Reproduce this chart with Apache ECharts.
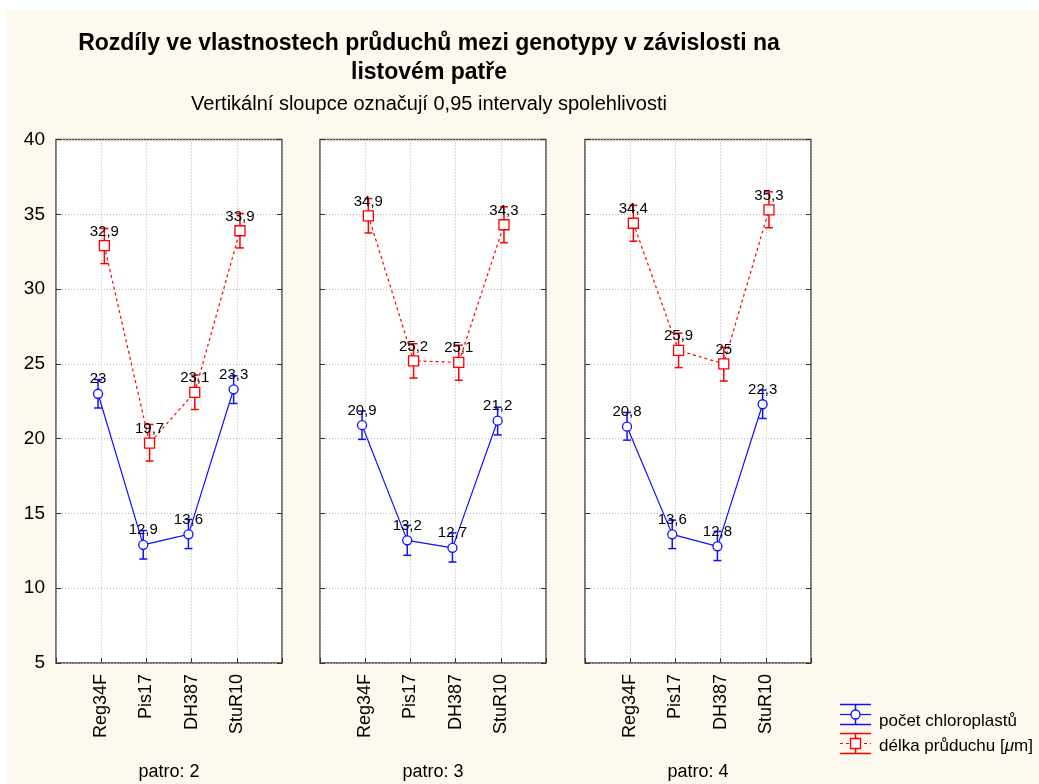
<!DOCTYPE html>
<html>
<head>
<meta charset="utf-8">
<script src="https://cdn.jsdelivr.net/npm/echarts@6/dist/echarts.min.js"></script>
<style>
html,body{margin:0;padding:0;background:#ffffff;}
#c{position:absolute;left:0;top:0;width:1039px;height:784px;}
</style>
</head>
<body>
<div id="c"></div>
<script>
// ---- data ----
const categories = ['Reg34F', 'Pis17', 'DH387', 'StuR10'];
const panelNames = ['patro: 2', 'patro: 3', 'patro: 4'];
const yTicks = [5, 10, 15, 20, 25, 30, 35, 40];

const chloro2 = [23, 12.9, 13.6, 23.3];
const chloroLo2 = [22.05, 11.95, 12.65, 22.35];
const chloroHi2 = [23.95, 13.85, 14.6, 24.2];
const delka2 = [32.9, 19.7, 23.1, 33.9];
const delkaLo2 = [31.7, 18.5, 21.95, 32.75];
const delkaHi2 = [34.05, 20.95, 24.25, 35.05];

const chloro3 = [20.9, 13.2, 12.7, 21.2];
const chloroLo3 = [19.95, 12.2, 11.75, 20.25];
const chloroHi3 = [21.85, 14.2, 13.7, 22.1];
const delka3 = [34.9, 25.2, 25.1, 34.3];
const delkaLo3 = [33.75, 24.05, 23.9, 33.1];
const delkaHi3 = [36.05, 26.35, 26.25, 35.5];

const chloro4 = [20.8, 13.6, 12.8, 22.3];
const chloroLo4 = [19.9, 12.65, 11.85, 21.35];
const chloroHi4 = [21.75, 14.55, 13.8, 23.25];
const delka4 = [34.4, 25.9, 25.0, 35.3];
const delkaLo4 = [33.2, 24.75, 23.85, 34.1];
const delkaHi4 = [35.6, 27.05, 26.1, 36.5];

const seriesNames = ['počet chloroplastů', 'délka průduchu [μm]'];

// ---- build ----
const FONT = 'Liberation Sans, Arial, sans-serif';
const BLUE = '#1010ff';
const RED = '#ff0000';
const panels = [
  {chl: chloro2, chlLo: chloroLo2, chlHi: chloroHi2, del: delka2, delLo: delkaLo2, delHi: delkaHi2},
  {chl: chloro3, chlLo: chloroLo3, chlHi: chloroHi3, del: delka3, delLo: delkaLo3, delHi: delkaHi3},
  {chl: chloro4, chlLo: chloroLo4, chlHi: chloroHi4, del: delka4, delLo: delkaLo4, delHi: delkaHi4}
];
const gridLefts = [56, 320, 585];
const gridWidth = 226;
const OFF = 0.07; // horizontal offset of the two groups around a category

const fmt = v => String(v).replace('.', ',');

function errRender(color) {
  return function (params, api) {
    const x = api.value(0);
    const top = api.coord([x, api.value(2)]);
    const bot = api.coord([x, api.value(1)]);
    const cap = 4;
    const st = {stroke: color, lineWidth: 1.5};
    return {
      type: 'group',
      children: [
        {type: 'line', shape: {x1: top[0], y1: top[1], x2: bot[0], y2: bot[1]}, style: st},
        {type: 'line', shape: {x1: top[0] - cap, y1: top[1], x2: top[0] + cap, y2: top[1]}, style: st},
        {type: 'line', shape: {x1: bot[0] - cap, y1: bot[1], x2: bot[0] + cap, y2: bot[1]}, style: st}
      ]
    };
  };
}

const grids = [], xAxes = [], yAxes = [], series = [];
panels.forEach((p, k) => {
  grids.push({left: gridLefts[k], width: gridWidth, top: 139.5, height: 523.5,
    outerBoundsMode: 'none', containLabel: false,
    show: true, backgroundColor: '#ffffff', borderColor: '#4a4a4a', borderWidth: 1.5});
  xAxes.push({
    type: 'value', gridIndex: k, min: 0, max: 5, interval: 1,
    name: panelNames[k], nameLocation: 'middle', nameGap: 100,
    nameTextStyle: {color: '#000', fontFamily: FONT, fontSize: 18},
    axisLine: {show: false},
    axisTick: {show: true, inside: true, length: 5, lineStyle: {color: '#333'}},
    axisLabel: {
      rotate: 90, margin: 11, color: '#000', fontFamily: FONT, fontSize: 18,
      formatter: v => (v >= 1 && v <= 4) ? categories[v - 1] : ''
    },
    splitLine: {show: true, lineStyle: {color: '#b8b8b8', type: [1, 2], width: 1}}
  });
  yAxes.push({
    type: 'value', gridIndex: k, min: 5, max: 40, interval: 5, position: 'left',
    axisLine: {show: false},
    axisTick: {show: true, inside: true, length: 5, lineStyle: {color: '#333'}},
    axisLabel: {show: k === 0, color: '#000', fontFamily: FONT, fontSize: 19, margin: 11,
      formatter: v => yTicks.includes(v) ? String(v) : ''},
    splitLine: {show: true, lineStyle: {color: '#b8b8b8', type: [1, 2], width: 1}}
  });
  yAxes.push({
    type: 'value', gridIndex: k, min: 5, max: 40, interval: 5, position: 'right',
    axisLine: {show: false},
    axisTick: {show: true, inside: true, length: 5, lineStyle: {color: '#333'}},
    axisLabel: {show: false}, splitLine: {show: false}
  });
  const yi = k * 2;
  const chlData = p.chl.map((v, i) => [i + 1 - OFF, v]);
  const delData = p.del.map((v, i) => [i + 1 + OFF, v]);
  series.push({
    type: 'custom', name: seriesNames[0], xAxisIndex: k, yAxisIndex: yi, z: 3,
    renderItem: errRender(BLUE),
    data: p.chl.map((v, i) => [i + 1 - OFF, p.chlLo[i], p.chlHi[i]]),
    encode: {x: 0, y: [1, 2]}
  });
  series.push({
    type: 'custom', name: seriesNames[1], xAxisIndex: k, yAxisIndex: yi, z: 3,
    renderItem: errRender(RED),
    data: p.del.map((v, i) => [i + 1 + OFF, p.delLo[i], p.delHi[i]]),
    encode: {x: 0, y: [1, 2]}
  });
  series.push({
    type: 'line', name: seriesNames[0], xAxisIndex: k, yAxisIndex: yi, z: 4,
    data: chlData, symbol: 'circle', symbolSize: 9,
    itemStyle: {color: '#ffffff', borderColor: BLUE, borderWidth: 1.3},
    lineStyle: {color: BLUE, width: 1.2},
    label: {show: true, position: 'top', distance: 2, color: '#000', fontFamily: FONT, fontSize: 15,
      formatter: q => fmt(q.value[1])},
    animation: false
  });
  series.push({
    type: 'line', name: seriesNames[1], xAxisIndex: k, yAxisIndex: yi, z: 4,
    data: delData, symbol: 'rect', symbolSize: 10,
    itemStyle: {color: '#ffffff', borderColor: RED, borderWidth: 1.3},
    lineStyle: {color: RED, width: 1.2, type: [3, 3]},
    label: {show: true, position: 'top', distance: 1, color: '#000', fontFamily: FONT, fontSize: 15,
      formatter: q => fmt(q.value[1])},
    animation: false
  });
});

// legend drawn as graphic glyphs
function legendGlyph(y, color, dashed, marker) {
  const st = {stroke: color, lineWidth: 1.5};
  const children = [
    {type: 'line', shape: {x1: 840, y1: y - 10, x2: 871, y2: y - 10}, style: st},
    {type: 'line', shape: {x1: 840, y1: y + 10, x2: 871, y2: y + 10}, style: st},
    {type: 'line', shape: {x1: 855.5, y1: y - 10, x2: 855.5, y2: y + 10}, style: st},
    {type: 'line', shape: {x1: 840, y1: y, x2: 871, y2: y},
      style: {stroke: color, lineWidth: 1.2, lineDash: dashed ? [3, 3] : null}}
  ];
  if (marker === 'circle') {
    children.push({type: 'circle', shape: {cx: 855.5, cy: y, r: 4.5}, style: {fill: '#fff', stroke: color, lineWidth: 1.3}});
  } else {
    children.push({type: 'rect', shape: {x: 850.5, y: y - 5, width: 10, height: 10}, style: {fill: '#fff', stroke: color, lineWidth: 1.3}});
  }
  return {type: 'group', children};
}

const option = {
  backgroundColor: '#fef9ee',
  animation: false,
  title: [
    {text: 'Rozdíly ve vlastnostech průduchů mezi genotypy v závislosti na\nlistovém patře',
      left: 424, top: 24, textAlign: 'center',
      textStyle: {fontFamily: FONT, fontSize: 23, fontWeight: 'bold', color: '#000', lineHeight: 29}},
    {text: 'Vertikální sloupce označují 0,95 intervaly spolehlivosti',
      left: 424, top: 89, textAlign: 'center',
      textStyle: {fontFamily: FONT, fontSize: 20, fontWeight: 'normal', color: '#000'}}
  ],
  grid: grids, xAxis: xAxes, yAxis: yAxes, series: series,
  graphic: [
    {type: 'rect', left: 0, top: 0, shape: {width: 1039, height: 10}, style: {fill: '#ffffff'}, silent: true},
    {type: 'rect', left: 0, top: 0, shape: {width: 7, height: 784}, style: {fill: '#ffffff'}, silent: true},
    legendGlyph(714.5, BLUE, false, 'circle'),
    legendGlyph(743.5, RED, true, 'rect'),
    {type: 'text', x: 879, y: 721, style: {text: seriesNames[0], fill: '#000', font: '17px ' + FONT, textVerticalAlign: 'middle'}},
    {type: 'text', x: 879, y: 746, style: {
      text: '{a|délka průduchu [}{b|μ}{a|m]}', textVerticalAlign: 'middle',
      rich: {a: {fontFamily: FONT, fontSize: 17, fill: '#000', color: '#000'},
             b: {fontFamily: FONT, fontSize: 17, fontStyle: 'italic', fill: '#000', color: '#000'}}
    }}
  ]
};

const chart = echarts.init(document.getElementById('c'), null, {renderer: 'canvas'});
chart.setOption(option);
</script>
</body>
</html>
